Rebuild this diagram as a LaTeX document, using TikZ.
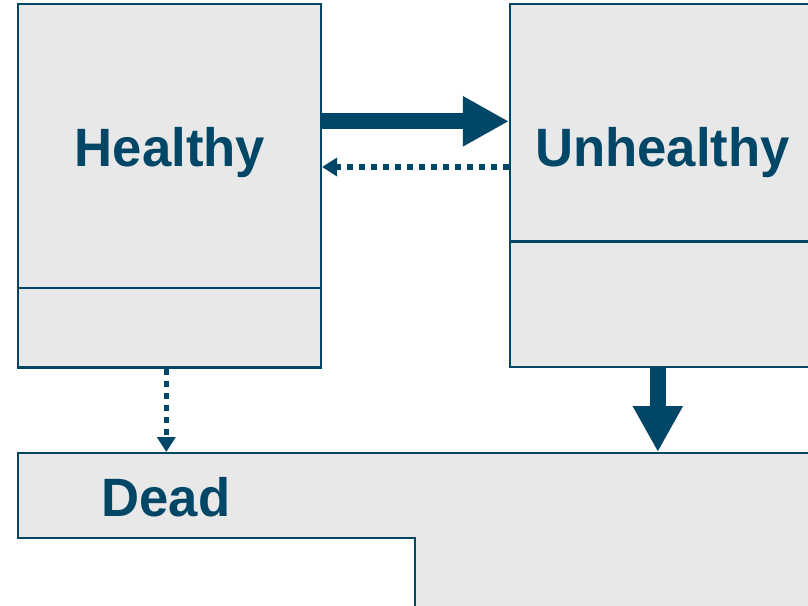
\documentclass[tikz,border=0pt]{standalone}
\usepackage{fontspec}
\setmainfont{Liberation Sans}
\usepackage{graphicx}
\usetikzlibrary{arrows.meta}
\definecolor{stateblue}{RGB}{0,70,103}
\definecolor{stategrey}{RGB}{232,232,232}
\def\namebox#1{\scalebox{0.975}[1]{#1}}
\tikzset{
	statebox/.style={draw=stateblue, fill=stategrey, line width=2.2pt, inner sep=0pt},
	statename/.style={text=stateblue, anchor=base, inner sep=0pt, font=\fontsize{54}{60}\selectfont\bfseries},
	bigarrow/.style={stateblue, line width=16pt, -{Triangle[length=46pt, width=47pt]}},
	dotarrow/.style={stateblue, line width=5.5pt, dash pattern=on 6pt off 6pt, -{Triangle[length=15pt, width=18pt]}}
}

\begin{document}
\begin{tikzpicture}[x=1pt, y=-1pt]
		%%%%% START %%%%%
		
		\useasboundingbox (0, 0) rectangle (808, 605);
		\clip (0, 0) rectangle (808, 605);
		
		\node[statebox, minimum width=303.3pt, minimum height=363.2pt] (healthy) at (169.35, 185.9) {};
		\draw[draw=stateblue, line width=2.2pt] (healthy.west |- 0, 288) -- (healthy.east |- 0, 288);
		\node[statename] (healthyname) at (170, 166.7) {\namebox{Healthy}};
		
		\node[statebox, minimum width=305pt, minimum height=363pt] (unhealthy) at (662.5, 185.5) {};
		\draw[draw=stateblue, line width=2.2pt] (unhealthy.west |- 0, 241.5) -- (unhealthy.east |- 0, 241.5);
		\node[statename] (unhealthyname) at (662.5, 166.7) {\namebox{Unhealthy}};
		
		\draw[statebox] (17.7, 453) -- (830, 453) -- (830, 620) -- (415.3, 620) -- (415.3, 538.3) -- (17.7, 538.3) -- cycle;
		\coordinate (deadtop) at (0, 452);
		\node[statename] (deadname) at (166, 516.7) {\namebox{Dead}};
		
		\draw[bigarrow] (healthy.east |- 0, 121.3) -- (unhealthy.west |- 0, 121.3);
		\draw[dotarrow] (unhealthy.west |- 0, 167) -- (healthy.east |- 0, 167);
		\draw[dotarrow] (healthy.south -| 166.3, 0) -- (deadtop -| 166.3, 0);
		\draw[bigarrow] (unhealthy.south -| 657.8, 0) -- (deadtop -| 657.8, 0);
		
		%%%%% END %%%%%
	\end{tikzpicture}
\end{document}
